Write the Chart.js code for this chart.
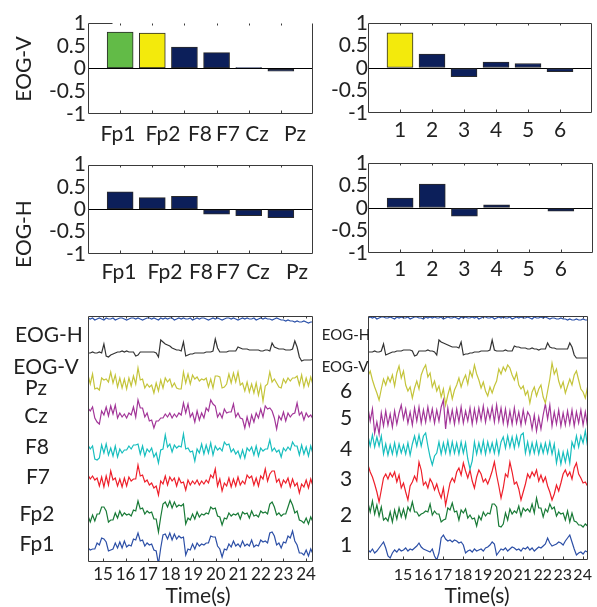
<!DOCTYPE html>
<html>
<head>
<meta charset="utf-8">
<script src="https://cdn.jsdelivr.net/npm/chart.js@4.4.1/dist/chart.umd.min.js"></script>
<style>
  body { margin: 0; background: #fff; }
  #page { position: relative; width: 597px; height: 607px; overflow: hidden; font-family: Lato, sans-serif; color: #222; }
  canvas { position: absolute; }
  .lab { position: absolute; transform: translate(-50%, -50%); white-space: nowrap; font-size: 21px; line-height: 1; }
  .rot { transform: translate(-50%, -50%) rotate(-90deg); }
  .sm { font-size: 15px; }
</style>
</head>
<body>
<div id="page">
  <canvas id="c1" width="320" height="150" style="left:0;top:0"></canvas>
  <canvas id="c2" width="277" height="150" style="left:320px;top:0"></canvas>
  <canvas id="c3" width="320" height="150" style="left:0;top:150px"></canvas>
  <canvas id="c4" width="277" height="150" style="left:320px;top:150px"></canvas>
  <canvas id="c5" width="320" height="307" style="left:0;top:300px"></canvas>
  <canvas id="c6" width="277" height="307" style="left:320px;top:300px"></canvas>

  <div class="lab rot" style="left:22px;top:69px">EOG-V</div>
  <div class="lab rot" style="left:22px;top:234px">EOG-H</div>

  <!-- channel names under the left bar panels -->
  <div class="lab" style="left:118px;top:132px">Fp1</div>
  <div class="lab" style="left:163px;top:132px">Fp2</div>
  <div class="lab" style="left:200px;top:132px">F8</div>
  <div class="lab" style="left:228px;top:132px">F7</div>
  <div class="lab" style="left:257px;top:132px">Cz</div>
  <div class="lab" style="left:295px;top:132px">Pz</div>
  <div class="lab" style="left:119px;top:270px">Fp1</div>
  <div class="lab" style="left:165px;top:270px">Fp2</div>
  <div class="lab" style="left:201px;top:270px">F8</div>
  <div class="lab" style="left:228px;top:270px">F7</div>
  <div class="lab" style="left:258px;top:270px">Cz</div>
  <div class="lab" style="left:297px;top:270px">Pz</div>

  <div class="lab" style="left:49px;top:333px">EOG-H</div>
  <div class="lab" style="left:46px;top:365px">EOG-V</div>
  <div class="lab" style="left:36px;top:386px">Pz</div>
  <div class="lab" style="left:36px;top:414px">Cz</div>
  <div class="lab" style="left:37px;top:445px">F8</div>
  <div class="lab" style="left:38px;top:475px">F7</div>
  <div class="lab" style="left:37px;top:512px">Fp2</div>
  <div class="lab" style="left:37px;top:542px">Fp1</div>

  <div class="lab sm" style="left:346px;top:334px">EOG-H</div>
  <div class="lab sm" style="left:345px;top:366px">EOG-V</div>
  <div class="lab" style="left:346px;top:389px">6</div>
  <div class="lab" style="left:346px;top:416px">5</div>
  <div class="lab" style="left:346px;top:447px">4</div>
  <div class="lab" style="left:346px;top:477px">3</div>
  <div class="lab" style="left:346px;top:513px">2</div>
  <div class="lab" style="left:346px;top:543px">1</div>

  <div class="lab" style="left:198px;top:594px">Time(s)</div>
  <div class="lab" style="left:477px;top:594px">Time(s)</div>
</div>
<script>
// ---- bar panels ----
const chanLabels = ['Fp1', 'Fp2', 'F8', 'F7', 'Cz', 'Pz'];
const compLabels = ['1', '2', '3', '4', '5', '6'];
const eogVChan = [0.80, 0.78, 0.47, 0.35, 0.02, -0.06];
const eogVComp = [0.78, 0.31, -0.19, 0.13, 0.10, -0.08];
const eogHChan = [0.39, 0.26, 0.29, -0.11, -0.14, -0.19];
const eogHComp = [0.22, 0.53, -0.18, 0.07, 0.00, -0.07];
const barTicks = [-1, -0.5, 0, 0.5, 1];

// ---- EEG traces (amplitude, up = positive) ----
const timeTicks = [15, 16, 17, 18, 19, 20, 21, 22, 23, 24];
const chanNames = ['EOG-H', 'EOG-V', 'Pz', 'Cz', 'F8', 'F7', 'Fp2', 'Fp1'];
const compNames = ['EOG-H', 'EOG-V', '6', '5', '4', '3', '2', '1'];

const rawEogH = [1,0,1,-1,0,1,0,-1,1,0, 0,1,-1,0,1,1,0,-1,0,1, 1,0,1,0,-1,0,1,1,0,1, 0,-1,1,0,1,0,1,1,-1,0,
  1,0,1,0,0,1,-1,0,1,0, 1,1,0,-1,0,1,0,1,0,-1, 0,1,1,0,1,0,-1,0,1,0, 1,0,0,1,-1,0,1,0,1,0,
  0,-1,0,1,0,-1,-1,-2,-1,-2, -2,-3,-2,-3,-3,-2,-3,-4,-3,-3];
const rawEogV = [0,0,1,0,0,1,0,9,-3,-4, -2,-1,0,1,1,2,1,2,1,1, 1,-3,-2,1,1,1,1,1,1,1, 0,-4,13,11,9,8,7,5,4,3,
  3,2,11,-3,-2,-1,-1,0,0,0, 0,0,1,1,1,2,14,5,1,1, 1,1,2,2,2,2,6,5,4,4, 4,3,3,3,3,3,2,2,3,3,
  2,10,6,5,4,4,4,3,3,3, 4,12,6,-4,-8,-7,-7,-7,-7,-6];
const rawPz = [8,-1,9,-6,-5,-7,5,3,4,1, 11,0,8,-4,5,-5,4,-6,5,-3, 7,-1,15,3,4,-5,-1,-4,-2,-10,
  0,-8,3,-5,5,1,4,-4,0,-5, -6,-6,11,0,9,-1,8,4,6,2, 4,3,5,-4,4,-5,7,7,6,-5,
  -4,-1,9,0,10,1,11,-2,0,-8, 1,-9,-1,-10,0,-12,-2,-18,-3,-1, 11,1,4,0,-4,-5,4,0,5,2,
  5,5,7,-2,8,-4,5,-3,6,-2];
const rawCz = [5,2,6,-5,-9,-11,2,-2,6,-3, 7,-1,8,-5,0,-4,-1,-5,0,-2, 6,-4,13,5,5,-4,0,-8,-7,-15,
  -8,-8,-5,-5,-1,-4,0,-5,-1,-4, 0,-2,10,0,9,-4,0,-9,2,-7, 0,-5,5,2,13,9,7,-4,0,-5,
  4,0,1,1,9,-4,0,-5,-6,-15, -4,-13,-2,-9,0,-5,4,-4,7,4, 5,2,-5,-16,-3,-7,1,-8,0,-4,
  -1,0,10,-2,1,-7,0,-4,-2,-6];
const rawF8 = [5,1,4,-9,-10,-8,5,-3,6,-5, 2,-6,4,-7,1,-3,0,0,4,1, 5,5,6,-4,4,-6,1,-2,2,-7,
  -3,-13,0,1,15,3,6,-2,5,2, 4,3,16,1,2,-2,-1,-11,1,-3, 6,-4,5,-3,7,-5,4,0,2,-1,
  8,5,6,-2,1,-4,-1,-8,0,-8, 2,-1,3,-5,4,-6,2,-1,1,1, 10,-1,2,-2,0,-7,2,-1,3,0,
  8,4,4,-5,5,-4,3,-6,4,-4];
const rawF7 = [5,1,4,0,2,-6,3,-7,4,-5, 9,0,2,-6,1,-7,2,-6,3,-1, 1,1,15,4,5,-2,0,-5,-3,-8,
  -6,-15,-1,-4,4,-5,3,-1,2,-6, 2,-3,-2,-10,0,-5,-1,-4,0,-5, -1,-4,0,-3,5,2,11,-6,1,-11,
  -3,-6,2,-7,1,-6,3,-5,-1,-4, 5,2,4,-5,2,-6,4,1,11,-1, 6,9,9,-2,1,-7,0,-3,2,-7,
  1,-6,-3,-13,-4,-7,0,-8,1,-6];
const rawFp2 = [-1,-7,0,-6,1,1,8,8,4,-7, -5,-5,2,-3,4,-1,2,0,1,-1, 5,4,14,6,7,1,4,2,3,-4,
  -4,-17,-2,11,13,8,14,7,13,8, 10,9,11,-9,-3,-5,1,-4,3,-2, 1,0,2,1,8,6,7,-1,-2,-10,
  -3,-4,2,-1,1,0,2,-4,3,1, 2,-3,4,-1,0,-2,4,2,3,1, 11,13,8,0,2,-1,1,1,8,15,
  10,2,4,-5,-6,-8,-3,-9,-2,-7];
const rawFp1 = [-3,-5,-4,-4,2,0,7,6,3,-6, -5,-4,2,-3,3,-3,4,-2,0,-1, 6,5,12,4,5,-1,2,0,1,-5,
  -6,-19,-3,10,11,6,12,5,11,6, 9,7,8,-10,-4,-5,1,-4,2,-1, 1,0,2,2,9,8,8,-1,-4,-12,
  -4,-5,1,-2,4,-1,1,-2,4,-1, 1,-1,5,-2,0,-1,5,3,4,2, 12,13,9,0,2,-3,3,2,9,7,
  14,4,0,-8,-8,-10,-5,-11,-4,-9];

const icaEogH = [0,1,0,1,-1,0,1,1,0,0, 1,0,-1,1,0,1,0,0,1,-1, 0,1,1,0,0,-1,1,0,1,0, 1,0,0,1,-1,0,1,0,0,1,
  0,-1,1,0,1,0,0,1,0,1, -1,0,1,1,0,0,1,-1,0,1, 0,1,0,0,1,-1,0,1,0,1, 0,0,1,0,-1,1,0,0,1,0,
  1,0,-1,0,0,-1,-1,0,-1,-1, -2,-1,-2,-2,-1,-2,-2,-1,-2,-2];
const icaEogV = [0,0,0,1,0,0,1,8,-3,-2, -1,0,0,1,1,1,2,2,2,2, 1,-4,-3,1,1,1,1,2,1,1, 0,-3,12,10,9,8,7,6,5,5,
  5,4,10,-3,-2,-2,-1,-1,0,0, 0,1,1,1,1,2,12,2,1,1, 1,1,2,1,1,1,6,5,5,4, 4,4,3,3,4,3,3,2,3,3,
  3,9,5,4,4,3,3,3,3,3, 3,9,5,-3,-6,-6,-6,-6,-6,-6];
const ica6 = [7,12,3,-4,-10,-17,-6,4,-2,6, 1,8,-3,10,17,5,12,-2,-8,-4, -15,-5,2,-6,8,14,18,6,10,-4,
  2,-8,-3,-14,-6,-22,-12,-4,-16,-7, -2,5,-4,3,8,-1,12,6,18,9, 3,-5,1,-8,-13,-4,-10,-3,2,14,
  9,16,12,18,15,8,3,10,-2,-6, -3,-12,-8,-20,-9,-4,-13,-6,-2,-14, -20,-8,4,20,9,14,2,-5,1,-10,
  -3,4,-2,8,12,3,-6,-9,-15,-4];
const ica5 = [9,-4,8,-16,-5,-17,4,-9,6,-8, 3,-10,6,-7,4,12,-2,8,-6,5, -8,9,-4,10,-6,7,-5,10,-3,8,
  -6,7,-4,10,17,-12,9,-5,7,-7, 8,-5,10,-6,6,-4,9,-7,8,-5, 9,-3,11,-5,8,-2,10,-5,12,-4,
  9,-6,8,-8,6,-7,9,-6,5,-8, 7,-6,5,1,-12,2,-14,0,-12,2, 13,-2,12,-9,5,-7,7,-9,4,-8,
  6,-7,7,-9,5,-6,7,-8,5,-9];
const ica4 = [9,-1,10,-2,8,-1,9,-9,1,-10, 0,-9,2,-10,1,-8,0,-9,2,-10, 1,9,-1,10,-1,9,12,-1,-12,-20,
  -11,-8,3,-9,2,-8,4,-9,3,-8, 2,-9,3,-8,2,-14,-24,-16,3,-9, 2,-8,4,-9,3,-7,2,-8,4,-9,
  3,8,-3,9,-2,8,-3,9,-1,10, 12,-8,3,-9,2,-8,3,-9,1,-8, 2,-8,3,-9,1,-18,-6,-19,-7,-17,
  -6,-18,3,-3,9,-2,9,2,14,-1];
const ica3 = [15,8,3,-4,-12,-22,-10,2,6,1, 7,3,8,-2,5,-8,-3,-12,-20,-6, -2,4,-1,18,10,-5,-2,-8,1,-3,
  -10,-4,-12,-18,-8,-25,-14,-3,2,-2, 8,12,5,17,9,2,10,-1,-8,3, 10,6,-2,1,-4,2,9,18,5,-6,
  -18,-8,6,3,18,8,-4,-2,-9,-20, -12,-4,6,2,8,4,10,-1,5,-2, 3,-6,-12,-20,-14,-5,-11,-3,6,10,
  4,8,1,12,17,6,2,-3,-2,-6];
const ica2 = [10,1,12,-1,8,-3,6,-7,-5,-8, 1,-9,3,-6,5,-4,4,-5,6,2, 11,1,1,-3,-1,0,2,1,9,-2,
  2,-1,-1,-9,-7,-6,5,3,10,1, 2,-7,3,0,4,-5,-2,-6,-5,-13, -3,-7,1,-3,0,-1,9,9,6,-13,
  -14,-11,0,-7,4,-1,2,0,7,-3, 5,2,4,1,9,0,15,5,5,-4, 4,1,9,4,6,-3,1,-1,0,-7,
  2,-9,0,-8,-9,-12,-12,-14,-11,-13];
const ica1 = [0,-2,1,-3,-1,2,5,8,2,-6, -8,-3,0,-2,1,-1,0,2,-1,1, 0,2,4,7,3,1,0,-1,-2,1, -6,-10,-3,12,15,11,9,10,8,10,
  9,7,8,5,-3,-1,0,-2,1,-1, 0,1,-1,2,3,5,8,6,-5,-2, 1,0,2,-1,1,3,2,0,1,-1, 2,1,3,0,2,-1,1,3,2,4,
  6,12,7,4,5,6,8,7,5,9, 12,15,8,1,-5,-3,-2,-4,-1,-2];

// stacking offsets of each trace inside its panel
const rawBase = [243, 209, 179, 149, 112, 82, 47, 17];
const icaBase = [242, 208, 177, 143, 115, 80, 47, 10];

// ---- styles ----
const NAVY = '#0c1f5a', GREEN = '#62bb47', YELLOW = '#f3ea0c', FRAME = '#3a3a3a';
const traceColors = ['#2a50a8', '#333333', '#c4c43a', '#a23598', '#17bebe', '#ee1f2a', '#187a36', '#2c4fa6'];

Chart.defaults.font.family = 'Lato, sans-serif';
Chart.defaults.color = '#222';

const framePlugin = {
  id: 'frame',
  afterDatasetsDraw(chart, args, opts) {
    const { ctx, chartArea: a, scales: { x } } = chart;
    ctx.save();
    ctx.strokeStyle = FRAME;
    ctx.lineWidth = 1;
    ctx.beginPath();
    const l = Math.round(a.left) + 0.5, r = Math.round(a.right) - 0.5;
    const t = Math.round(a.top) + 0.5, b = Math.round(a.bottom) - 0.5;
    ctx.moveTo(l, t); ctx.lineTo(opts.topTo ? l + opts.topTo : r, t);
    ctx.moveTo(r, t); ctx.lineTo(r, b);
    ctx.moveTo(l, b); ctx.lineTo(r, b);
    ctx.moveTo(l, t); ctx.lineTo(l, b);
    (opts.ticks || []).forEach(v => {
      const px = Math.round(x.getPixelForValue(v)) + 0.5;
      ctx.moveTo(px, b); ctx.lineTo(px, b - 3);
      ctx.moveTo(px, t); ctx.lineTo(px, t + 2);
    });
    ctx.stroke();
    ctx.restore();
  }
};

function makeBar(id, labels, values, colors, box) {
  return new Chart(document.getElementById(id), {
    type: 'bar',
    data: {
      labels: ['', ...labels, ''],
      datasets: [{
        data: [null, ...values, null],
        backgroundColor: ['#fff', ...colors, '#fff'],
        borderColor: '#2a2a2a',
        borderWidth: 1,
        borderSkipped: false,
        barThickness: 26
      }]
    },
    options: {
      responsive: false, animation: false, devicePixelRatio: 1,
      layout: { padding: { left: 0, right: box.pr, top: box.pt, bottom: 0 } },
      plugins: { legend: { display: false }, tooltip: { enabled: false },
        frame: { topTo: box.topTo, ticks: [1, 2, 3, 4, 5, 6] } },
      scales: {
        x: {
          offset: false,
          grid: { display: false, drawTicks: false },
          border: { display: false },
          ticks: { display: box.xLabels, font: { size: 21 }, padding: box.xp, autoSkip: false, maxRotation: 0 },
          afterFit: s => { s.height = box.xh; }
        },
        y: {
          min: -1, max: 1,
          afterBuildTicks: s => { s.ticks = barTicks.map(v => ({ value: v })); },
          ticks: { font: { size: 21 }, padding: box.yp, autoSkip: false, callback: v => String(v) },
          grid: { drawTicks: false, color: c => (c.tick && c.tick.value === 0) ? '#000' : 'rgba(0,0,0,0)' },
          border: { display: false },
          afterFit: s => { s.width = box.yw; }
        }
      }
    },
    plugins: [framePlugin]
  });
}

const c1Colors = [GREEN, YELLOW, NAVY, NAVY, NAVY, NAVY];
const c2Colors = [YELLOW, NAVY, NAVY, NAVY, NAVY, NAVY];
const navyColors = [NAVY, NAVY, NAVY, NAVY, NAVY, NAVY];

makeBar('c1', chanLabels, eogVChan, c1Colors, { pr: 7, pt: 23, xh: 36, yw: 88, xp: 6, yp: 2, topTo: 24, xLabels: false });
makeBar('c2', compLabels, eogVComp, c2Colors, { pr: 4, pt: 23, xh: 37, yw: 48, xp: 5, yp: 0, xLabels: true });
makeBar('c3', chanLabels, eogHChan, navyColors, { pr: 7, pt: 13, xh: 46, yw: 88, xp: 4, yp: 2, xLabels: false });
makeBar('c4', compLabels, eogHComp, navyColors, { pr: 4, pt: 13, xh: 47, yw: 48, xp: 4, yp: 0, xLabels: true });

function makeTraces(id, series, bases, box) {
  const n = series[0].length;
  const t = series[0].map((_, i) => box.xMin + i * (box.xMax - box.xMin) / (n - 1));
  return new Chart(document.getElementById(id), {
    type: 'line',
    data: {
      datasets: series.map((s, k) => ({
        data: s.map((v, i) => ({ x: t[i], y: bases[k] + v })),
        borderColor: traceColors[k],
        borderWidth: 1.2,
        pointRadius: 0,
        tension: 0,
        fill: false
      }))
    },
    options: {
      responsive: false, animation: false, devicePixelRatio: 1,
      layout: { padding: { left: 0, right: box.pr, top: box.pt, bottom: 0 } },
      plugins: { legend: { display: false }, tooltip: { enabled: false }, frame: { ticks: timeTicks } },
      scales: {
        x: {
          type: 'linear', min: box.xMin, max: box.xMax,
          afterBuildTicks: s => { s.ticks = timeTicks.map(v => ({ value: v })); },
          ticks: { font: { size: box.fs }, padding: box.xp, autoSkip: false, maxRotation: 0, callback: v => String(v) },
          grid: { display: false, drawTicks: false },
          border: { display: false },
          afterFit: s => { s.height = box.xh; }
        },
        y: {
          min: 0, max: box.yMax,
          ticks: { display: false },
          grid: { display: false, drawTicks: false },
          border: { display: false },
          afterFit: s => { s.width = box.yw; }
        }
      }
    },
    plugins: [framePlugin]
  });
}

makeTraces('c5', [rawEogH, rawEogV, rawPz, rawCz, rawF8, rawF7, rawFp2, rawFp1], rawBase,
  { pr: 7, pt: 16, xh: 45, yw: 88, xp: 2, fs: 17, xMin: 14.335, xMax: 24.31, yMax: 246 });
makeTraces('c6', [icaEogH, icaEogV, ica6, ica5, ica4, ica3, ica2, ica1], icaBase,
  { pr: 4, pt: 16, xh: 47, yw: 48, xp: 5, fs: 16, xMin: 13.24, xMax: 24.245, yMax: 244 });
</script>
</body>
</html>
